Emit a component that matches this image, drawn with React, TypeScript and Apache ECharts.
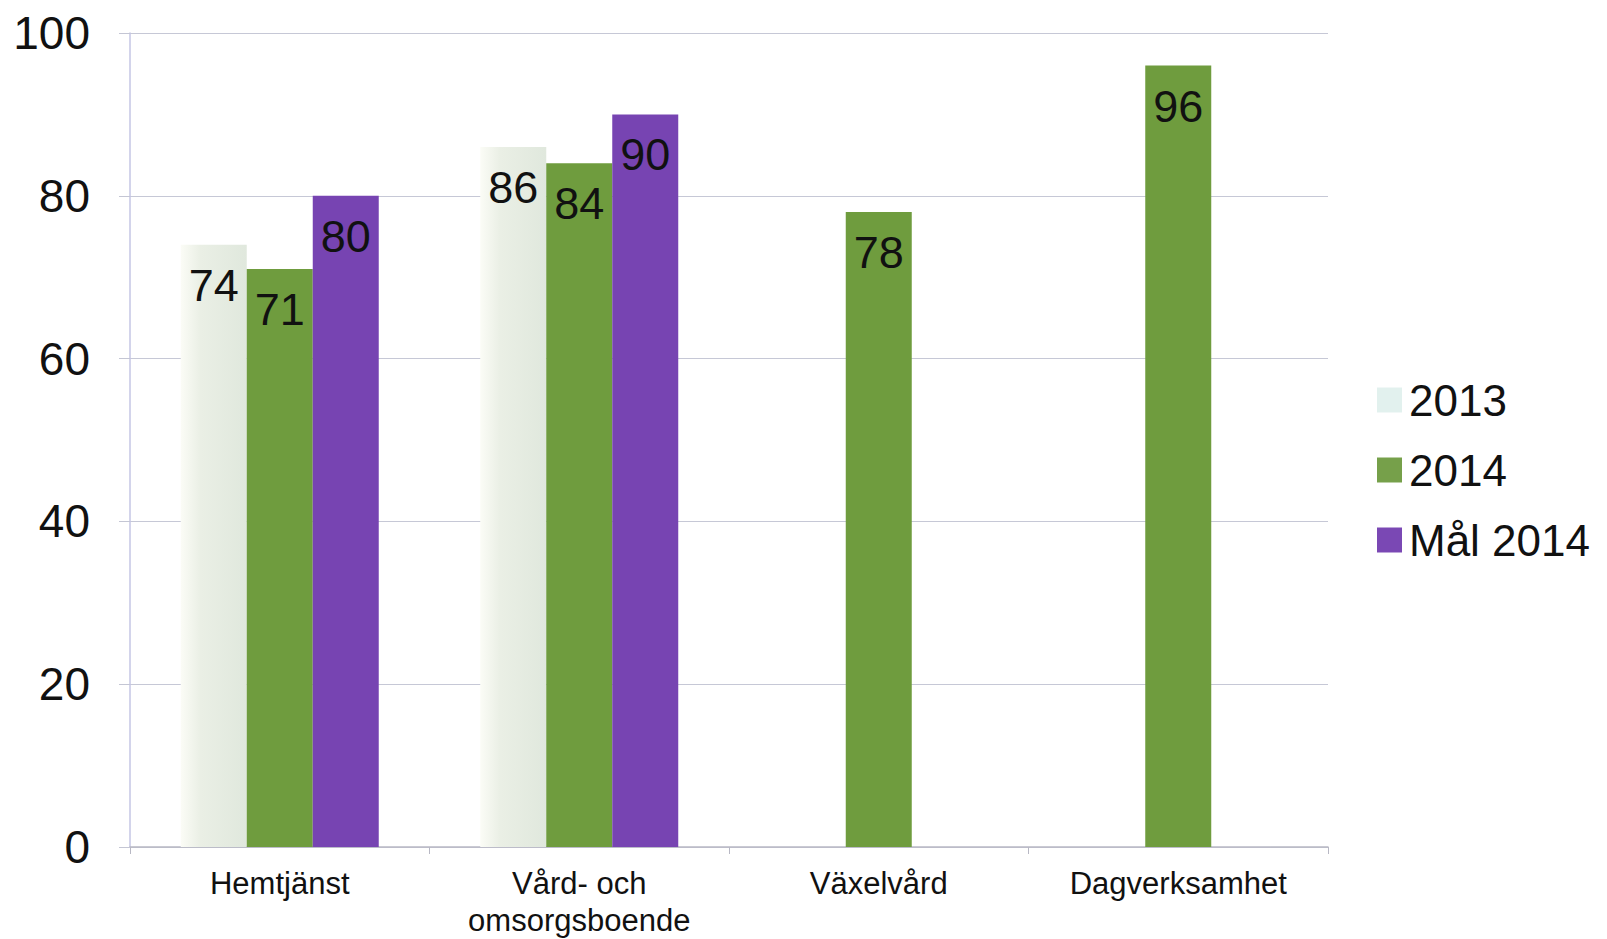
import React, { useEffect, useRef } from "react";
import * as echarts from "echarts";

const categories = ["Hemtjänst", "Vård- och\nomsorgsboende", "Växelvård", "Dagverksamhet"];
const seriesNames = ["2013", "2014", "Mål 2014"];
const values2013: (number | null)[] = [74, 86, null, null];
const values2014: (number | null)[] = [71, 84, 78, 96];
const valuesGoal2014: (number | null)[] = [80, 90, null, null];
const yTicks = { min: 0, max: 100, interval: 20 };

const FONT = "'Liberation Sans', Arial, sans-serif";

export default function App() {
  const ref = useRef<HTMLDivElement>(null);

  useEffect(() => {
    document.body.style.margin = "0";
    if (!ref.current) return;
    const chart = echarts.init(ref.current, undefined, { renderer: "svg" });

    const paleFill = new echarts.graphic.LinearGradient(0, 0, 1, 0, [
      { offset: 0, color: "#fbfcf6" },
      { offset: 0.3, color: "#eaefe5" },
      { offset: 1, color: "#e0e8dd" },
    ]);

    const label = {
      show: true,
      position: "insideTop" as const,
      distance: 18,
      color: "#111",
      fontSize: 45,
      fontFamily: FONT,
    };

    chart.setOption({
      animation: false,
      backgroundColor: "#ffffff",
      grid: { left: 130, right: 279, top: 33, bottom: 91, containLabel: false },
      legend: {
        orient: "vertical",
        left: 1372,
        top: 373,
        itemWidth: 25,
        itemHeight: 25,
        itemGap: 26,
        icon: "rect",
        textStyle: { fontSize: 44, fontFamily: FONT, color: "#111", padding: [0, 0, 0, 2] },
        data: [
          { name: seriesNames[0], itemStyle: { color: "#e2f1ee" } },
          { name: seriesNames[1], itemStyle: { color: "#76a04a" } },
          { name: seriesNames[2], itemStyle: { color: "#7a48b4" } },
        ],
      },
      xAxis: {
        type: "category",
        data: categories,
        axisLine: { show: true, lineStyle: { color: "#b8b8c4", width: 1.5 } },
        axisTick: { show: true, length: 7, lineStyle: { color: "#b8b8c4" } },
        axisLabel: {
          fontSize: 31,
          lineHeight: 37,
          fontFamily: FONT,
          color: "#111",
          margin: 18,
          interval: 0,
        },
      },
      yAxis: {
        type: "value",
        min: yTicks.min,
        max: yTicks.max,
        interval: yTicks.interval,
        axisLine: { show: true, lineStyle: { color: "#c4c6e4", width: 1.5 } },
        axisTick: { show: true, length: 11, lineStyle: { color: "#c4c6d4" } },
        splitLine: { show: true, lineStyle: { color: "#c6c8d6", width: 1.2 } },
        axisLabel: { fontSize: 46, fontFamily: FONT, color: "#111", margin: 40 },
      },
      series: [
        {
          name: seriesNames[0],
          type: "bar",
          data: values2013,
          barWidth: 66,
          barGap: "0%",
          itemStyle: { color: paleFill },
          label,
        },
        {
          name: seriesNames[1],
          type: "bar",
          data: values2014,
          barWidth: 66,
          barGap: "0%",
          itemStyle: { color: "#6f9c3e" },
          label,
        },
        {
          name: seriesNames[2],
          type: "bar",
          data: valuesGoal2014,
          barWidth: 66,
          barGap: "0%",
          itemStyle: { color: "#7744b2" },
          label,
        },
      ],
    });

    return () => chart.dispose();
  }, []);

  return <div ref={ref} style={{ width: 1607, height: 939 }} />;
}
